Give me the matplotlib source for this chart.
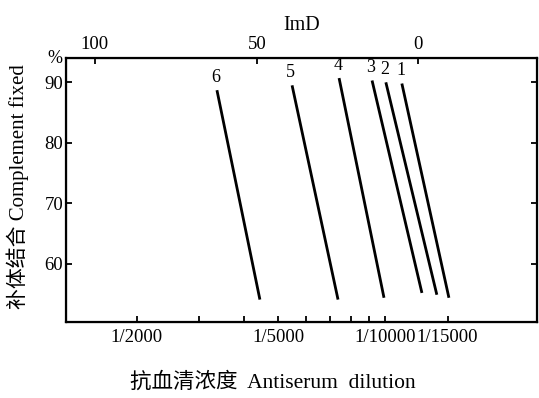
import numpy as np
import matplotlib.pyplot as plt

# data (reciprocal dilution, % complement fixed)
curve_ids = ['1', '2', '3', '4', '5', '6']
dil_top = [11150, 10050, 9190, 7420, 5470, 3360]
dil_bottom = [15130, 13990, 12700, 9930, 7370, 4440]
fix_top = [89.8, 90.0, 90.3, 90.7, 89.5, 88.7]
fix_bottom = [54.4, 54.9, 55.2, 54.4, 54.1, 54.1]

x_major = [2000, 5000, 10000, 15000]
x_major_labels = ['1/2000', '1/5000', '1/10000', '1/15000']
x_minor = [3000, 4000, 6000, 7000, 8000, 9000]
y_ticks = [60, 70, 80, 90]

imd_labels = ['100', '50', '0']
imd_at_dilution = [1520, 4350, 12400]

plt.rcParams['font.family'] = ['Liberation Serif', 'Noto Sans CJK SC']
plt.rcParams['font.size'] = 13

fig = plt.figure(figsize=(5.39, 3.98), dpi=100)
ax = fig.add_axes([0.1224, 0.191, 0.874, 0.663])

for i in range(len(curve_ids)):
    ax.plot([dil_top[i], dil_bottom[i]], [fix_top[i], fix_bottom[i]],
            color='black', lw=2.0, solid_capstyle='butt')
    ax.annotate(curve_ids[i], (dil_top[i], fix_top[i]), xytext=(-1, 3),
                textcoords='offset points', ha='center', va='bottom', fontsize=13)

ax.set_xscale('log')
ax.set_xlim(1262, 26800)
ax.set_ylim(50.4, 94.0)

ax.set_xticks(x_major)
ax.set_xticklabels(x_major_labels, fontsize=13.5)
ax.set_xticks(x_minor, minor=True)
ax.xaxis.set_minor_formatter(plt.NullFormatter())
ax.set_yticks(y_ticks)

ax.tick_params(axis='both', which='both', direction='in', length=4, width=1.3,
               top=False, right=True)
ax.tick_params(axis='x', which='major', pad=5)
ax.tick_params(axis='y', pad=2, labelsize=13.5)
for s in ax.spines.values():
    s.set_linewidth(1.6)

# top axis: immunological distance
top = ax.twiny()
top.set_xscale('log')
top.set_xlim(ax.get_xlim())
top.set_xticks(imd_at_dilution)
top.set_xticklabels(imd_labels, fontsize=13.5)
top.xaxis.set_minor_locator(plt.NullLocator())
top.tick_params(axis='x', direction='in', length=4, width=1.3, pad=4)
top.set_xlabel('ImD', labelpad=4, fontsize=14.5)

ax.text(-0.023, 1.0, '%', transform=ax.transAxes, ha='center', va='center', fontsize=13)

fig.text(0.033, 0.53, '补体结合 Complement fixed', rotation=90,
         ha='center', va='center', fontsize=15)
fig.text(0.507, 0.038, '抗血清浓度  Antiserum  dilution', ha='center', va='center', fontsize=15.5)

fig.savefig('out.png', dpi=100)
